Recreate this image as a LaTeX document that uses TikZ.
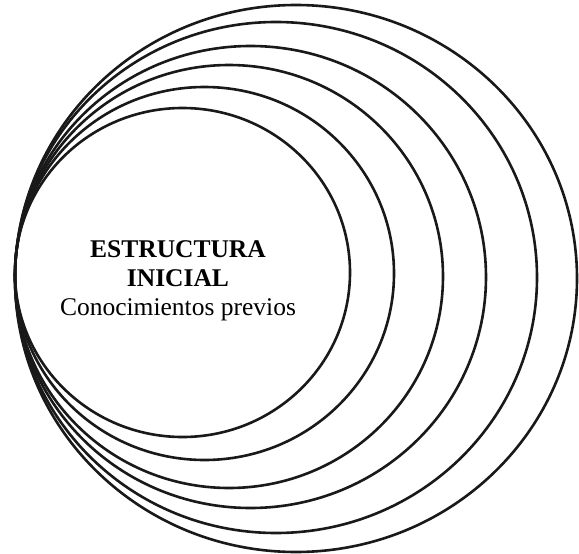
\documentclass[tikz,border=0pt]{standalone}
\usepackage{fontspec}
\setmainfont{Liberation Serif}
\begin{document}
\begin{tikzpicture}[x=1pt,y=-1pt,
  ring/.style={draw=black!90,line width=2.6pt},
  lbl/.style={align=center,font=\fontsize{25.5}{29}\selectfont,inner sep=0pt}]
\useasboundingbox (0,0) rectangle (579,554);
\draw[ring] (182.5,272.5) ellipse [x radius=167.5, y radius=164.5];
\draw[ring] (204.5,273.5) ellipse [x radius=189.5, y radius=186.5];
\draw[ring] (229,276.5) ellipse [x radius=214, y radius=211.5];
\draw[ring] (250.5,277) ellipse [x radius=235.5, y radius=231];
\draw[ring] (276,277.5) ellipse [x radius=261, y radius=255.5];
\draw[ring] (296,278.5) ellipse [x radius=281, y radius=273.5];
\node[lbl] (t) at (178,281) {\textbf{ESTRUCTURA}\\\textbf{INICIAL}\\Conocimientos previos};
\end{tikzpicture}
\end{document}
